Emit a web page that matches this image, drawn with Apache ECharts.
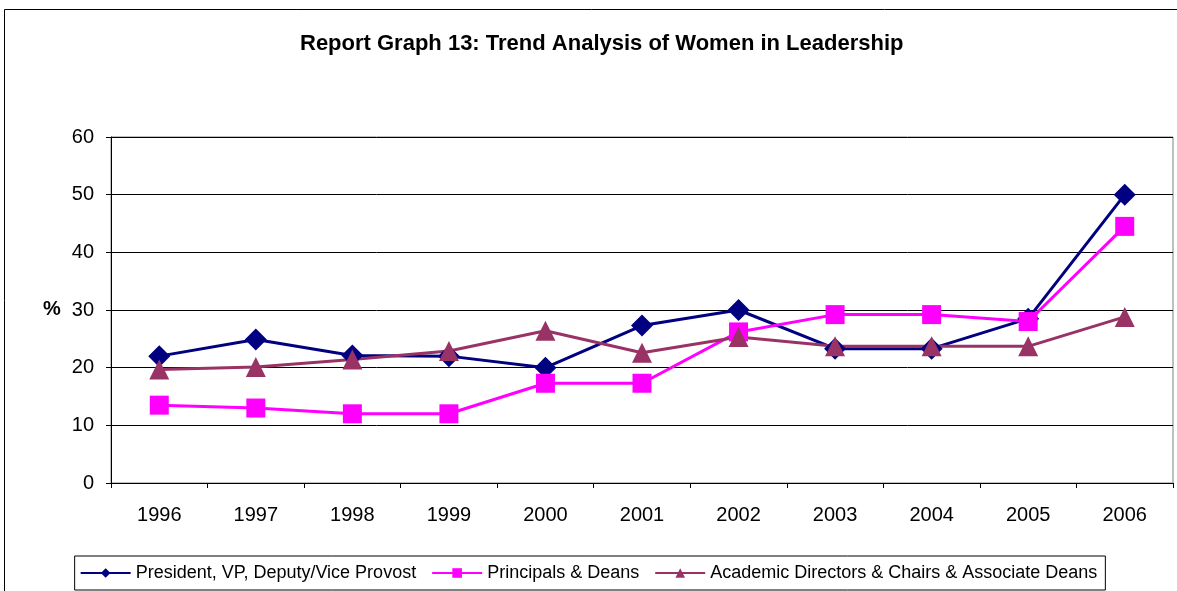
<!DOCTYPE html>
<html><head><meta charset="utf-8">
<script src="https://cdn.jsdelivr.net/npm/echarts@6/dist/echarts.min.js"></script>
<style>html,body{margin:0;padding:0;background:#fff}#c{width:1177px;height:591px}</style>
</head><body><div id="c"></div>
<script>
const years = ['1996','1997','1998','1999','2000','2001','2002','2003','2004','2005','2006'];
const president = [22.0, 24.9, 22.1, 22.0, 20.0, 27.3, 30.0, 23.3, 23.3, 28.5, 50.0];
const principals = [13.5, 13.0, 12.0, 12.0, 17.3, 17.3, 26.2, 29.2, 29.2, 28.0, 44.5];
const academic = [19.7, 20.1, 21.4, 22.9, 26.4, 22.6, 25.3, 23.7, 23.7, 23.7, 28.8];
const seriesNames = ['President, VP, Deputy/Vice Provost', 'Principals & Deans', 'Academic Directors & Chairs & Associate Deans'];
const titleText = 'Report Graph 13: Trend Analysis of Women in Leadership';

const chart = echarts.init(document.getElementById('c'), null, {renderer:'canvas'});
const font = 'Liberation Sans, Arial, sans-serif';
function mk(name, data, color, symbol, size) {
  return {
    name, type:'line', data, symbol, symbolSize:size,
    itemStyle:{color}, lineStyle:{color, width:3}, animation:false
  };
}
chart.setOption({
  animation:false,
  title:{text:titleText, left:295, top:28, padding:5, textStyle:{fontFamily:font, fontSize:22, fontWeight:'bold', color:'#000'}},
  graphic:[
    {type:'rect', shape:{x:4.5, y:9.5, width:1180, height:600}, style:{fill:'none', stroke:'#000', lineWidth:1}, z:-1},
    {type:'text', left:43, top:299, style:{text:'%', font:'bold 20px Liberation Sans, Arial', fill:'#000'}}
  ],
  grid:{left:111, right:4, top:137, bottom:108, containLabel:false, show:true, borderColor:'#808080', borderWidth:1},
  xAxis:{type:'category', data:years, boundaryGap:true,
    axisLine:{lineStyle:{color:'#000', width:1}},
    axisTick:{show:true, length:5, lineStyle:{color:'#000'}, alignWithLabel:false},
    axisLabel:{fontFamily:font, fontSize:20, color:'#000', margin:22}},
  yAxis:{type:'value', min:0, max:60, interval:10,
    axisLine:{show:true, lineStyle:{color:'#000'}},
    axisTick:{show:true, length:5, inside:false, lineStyle:{color:'#000'}},
    axisLabel:{fontFamily:font, fontSize:20, color:'#000', margin:17},
    splitLine:{show:true, lineStyle:{color:'#000', width:1}}},
  legend:{bottom:1, left:'center', itemWidth:50, itemHeight:12, itemGap:15,
    borderColor:'#000', borderWidth:1, padding:[8,8,8,5], borderRadius:0,
    textStyle:{fontFamily:font, fontSize:18, color:'#000'},
    data:seriesNames},
  series:[
    mk(seriesNames[0], president, '#000080', 'diamond', 22),
    mk(seriesNames[1], principals, '#FF00FF', 'rect', 19),
    mk(seriesNames[2], academic, '#993366', 'triangle', 20)
  ]
});
</script></body></html>
